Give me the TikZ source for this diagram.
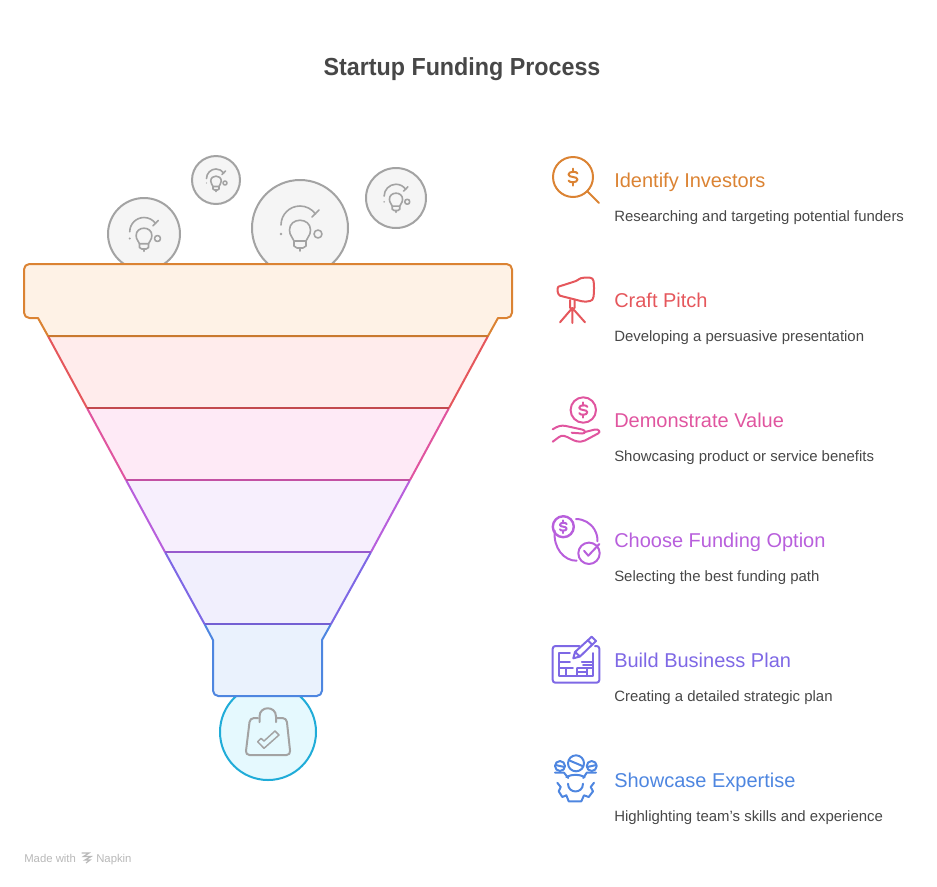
\documentclass[tikz,border=0pt]{standalone}
\usepackage{fontspec}
\setmainfont{Liberation Sans}
\newfontfamily\titlefont[FakeStretch=0.944]{Liberation Sans}
\definecolor{cOrange}{HTML}{DB8333}
\definecolor{cRed}{HTML}{E5575C}
\definecolor{cPink}{HTML}{E0559F}
\definecolor{cPurple}{HTML}{B85FDC}
\definecolor{cViolet}{HTML}{7E68E5}
\definecolor{cBlue}{HTML}{4E86E0}
\definecolor{cTeal}{HTML}{20ACD8}
\definecolor{cGrey}{HTML}{A3A3A3}
\definecolor{fOrange}{HTML}{FEF2E6}
\definecolor{fRed}{HTML}{FFECEC}
\definecolor{fPink}{HTML}{FEEAF6}
\definecolor{fPurple}{HTML}{F7EFFD}
\definecolor{fViolet}{HTML}{F1EFFD}
\definecolor{fBlue}{HTML}{EAF2FD}
\definecolor{fTeal}{HTML}{E5F9FE}
\tikzset{
  headlabel/.style={anchor=base west,inner sep=0pt,font=\fontsize{15}{18}\selectfont},
  bodylabel/.style={anchor=base west,inner sep=0pt,text=black!72,font=\fontsize{11.2}{13}\selectfont},
  footlabel/.style={anchor=base west,inner sep=0pt,text=black!28,font=\fontsize{8.5}{10}\selectfont},
  band/.style={line width=1.5pt,line join=round},
  icon/.style={line width=1.5pt,line cap=round,line join=round},
  bulbline/.style={cGrey,line width=1.2pt,line cap=round,line join=round},
  bulbdisc/.style={draw=cGrey,fill=black!4,line width=1.5pt},
  pics/dollar/.style={code={
    \draw[icon,pic actions](4.5,-3.5)..controls(4,-6) and (-4.5,-6)..(-4.5,-2.5)
      ..controls(-4.5,1) and (4.5,-1)..(4.5,2.5)
      ..controls(4.5,6) and (-4,6)..(-4.5,3.5);
    \draw[icon,pic actions](0,-8.5)--(0,-5)(0,5)--(0,8.5);
  }},
  pics/bulb/.style={code={
    \draw[bulbline](-19,-3)arc[start angle=180,end angle=325,radius=19];
    \draw[bulbline](12,-11)--(19,-18);
    \draw[bulbline](-6,13)..controls(-7,9) and (-10.5,8)..(-10.5,2)
      ..controls(-10.5,-11) and (10.5,-11)..(10.5,2)
      ..controls(10.5,8) and (7,9)..(6,13)--cycle;
    \draw[bulbline](-6,13)--(-6,18)--(-3,20)--(3,20)--(6,18)--(6,13)(0,20)--(0,23);
    \draw[bulbline](18,6)circle(4);
    \fill[cGrey](-19,6)circle(1.4);
  }}
}
\begin{document}
\begin{tikzpicture}[x=0.75pt,y=-0.75pt]
  \useasboundingbox(0,0)rectangle(937,886);

  \node[anchor=base,font=\titlefont\fontsize{18.5}{23}\bfseries\selectfont,text=black!72,inner sep=0pt](title) at (462,75.5){Startup Funding Process};

  % circles behind the funnel
  \draw[bulbdisc](144,234)circle(36);
  \draw[bulbdisc](216,180)circle(24);
  \draw[bulbdisc](300,228)circle(48);
  \draw[bulbdisc](396,198)circle(30);
  \pic[scale=0.75] at (144,234){bulb};
  \pic[scale=0.5] at (216,180){bulb};
  \pic at (300,228){bulb};
  \pic[scale=0.625] at (396,198){bulb};
  \draw[cTeal,fill=fTeal,line width=1.5pt](268,732)circle(48);

  % funnel
  \coordinate(L1) at (48,336);\coordinate(R1) at (488,336);
  \coordinate(L2) at (87,408);\coordinate(R2) at (449,408);
  \coordinate(L3) at (126,480);\coordinate(R3) at (410,480);
  \coordinate(L4) at (165,552);\coordinate(R4) at (371,552);
  \coordinate(L5) at (204.5,624);\coordinate(R5) at (331,624);

  \fill[fRed](L1)--(R1)--(R2)--(L2)--cycle;
  \fill[fPink](L2)--(R2)--(R3)--(L3)--cycle;
  \fill[fPurple](L3)--(R3)--(R4)--(L4)--cycle;
  \fill[fViolet](L4)--(R4)--(R5)--(L5)--cycle;

  \draw[band,cOrange,fill=fOrange](L1)--(38,318)[rounded corners=4pt]--(24,318)--(24,264)--(512,264)--(512,318)[sharp corners]--(498,318)--(R1)--cycle;
  \draw[band,cBlue,fill=fBlue](L5)--(213,640)[rounded corners=4pt]--(213,696)--(322,696)[sharp corners]--(322,640)--(R5);

  \draw[band,cRed](L1)--(L2)(R1)--(R2);
  \draw[band,cPink](L2)--(L3)(R2)--(R3);
  \draw[band,cPurple](L3)--(L4)(R3)--(R4);
  \draw[band,cViolet](L4)--(L5)(R4)--(R5);
  \draw[band,cOrange!92!black](L1)--(R1);
  \draw[band,cRed!85!black](L2)--(R2);
  \draw[band,cPink!70!cPurple!92!black](L3)--(R3);
  \draw[band,cPurple!65!cViolet!92!black](L4)--(R4);
  \draw[band,cViolet!92!black](L5)--(R5);

  % bag
  \draw[icon,cGrey,rounded corners=3pt](258,718)--(250,718)--(245.5,755)--(290.5,755)--(286.5,718)--(277,718);
  \draw[icon,cGrey](259.5,722)--(259.5,716.5)..controls(259.5,705.5) and (276,705.5)..(276,716.5)--(276,722);
  \draw[icon,cGrey,line width=1.1pt](257.7,741.7)--(264,748.3)--(279,735)--(275,731)--(264,741)--(261,738.3)--cycle;

  % right column
  \node[headlabel,text=cOrange](identify) at (614,187){Identify Investors};
  \node[bodylabel](identifytxt) at (614,221){Researching and targeting potential funders};
  \node[headlabel,text=cRed](craft) at (614,307){Craft Pitch};
  \node[bodylabel](crafttxt) at (614,341){Developing a persuasive presentation};
  \node[headlabel,text=cPink](demo) at (614,427){Demonstrate Value};
  \node[bodylabel](demotxt) at (614,461){Showcasing product or service benefits};
  \node[headlabel,text=cPurple](choose) at (614,547){Choose Funding Option};
  \node[bodylabel](choosetxt) at (614,581){Selecting the best funding path};
  \node[headlabel,text=cViolet](build) at (614,667){Build Business Plan};
  \node[bodylabel](buildtxt) at (614,701){Creating a detailed strategic plan};
  \node[headlabel,text=cBlue](show) at (614,787){Showcase Expertise};
  \node[bodylabel](showtxt) at (614,821){Highlighting team's skills and experience};

  % magnifier
  \draw[icon,cOrange](573,177)circle(20);
  \draw[icon,cOrange](587,191)--(599,203);
  \pic[cOrange,scale=1] at (573,177){dollar};

  % pitch camera
  \draw[icon,cRed](558.3,286.7)--(573,282)..controls(578,281) and (579,277.7)..(584,277.7)--(590,277.7)
    ..controls(594,277.7) and (594,283)..(594,288)..controls(594,294) and (594,301)..(590,301)
    ..controls(584,303) and (578,300)..(573,299)--(560,295.7)..controls(557,294) and (557,288)..(558.3,286.7);
  \draw[icon,cRed](570,300)--(570,308)(574.7,300)--(574.7,308)(560,322.3)--(572.3,308)--(585,322.3)(572.3,308)--(572.3,323);

  % hand and coin
  \draw[icon,cPink](583.3,410)circle(12.7);
  \pic[cPink,scale=0.9] at (583.3,410){dollar};
  \draw[icon,cPink](552.7,429.3)..controls(558,426) and (561,425)..(566,426)--(582,429.5)..controls(586,430.5) and (586,433.5)..(582,433.5)--(571.7,432.7);
  \draw[icon,cPink](585,432)--(595,429.5)..controls(599,429) and (601,432)..(598,433.5)--(585,440.5)..controls(579,443) and (575,441)..(571,439)..controls(566,436) and (562,434.5)..(559,437)--(552.7,441.7);

  % funding option
  \draw[icon,cPurple,line width=1.8pt](563.3,526.7)circle(10.5);
  \pic[cPurple,scale=0.75] at (563.3,526.7){dollar};
  \draw[icon,cPurple](589,553.3)circle(10.7);
  \draw[icon,cPurple](584,550.7)--(588.3,555.7)--(599.3,544);
  \draw[icon,cPurple](576,519)arc[start angle=270,end angle=362,radius=21.5];
  \draw[icon,cPurple](554.7,530.5)..controls(553,548) and (564,561)..(576.7,560.7);

  % business plan
  \draw[icon,cViolet,rounded corners=2pt](579.3,646)--(552.7,646)--(552.7,682.7)--(599.3,682.7)--(599.3,646)--(595,646);
  \draw[icon,cViolet](573.3,658.3)--(575,652)--(591.7,636.7)--(596,641)--(580,656.5)--cycle(575,652)--(580,656.5)(588,640.5)--(592.5,645);
  \draw[icon,cViolet,line width=1.3pt](570,653.3)--(559.3,653.3)--(559.3,676)--(593.3,676)--(593.3,653)(559.3,661.7)--(570,661.7)(559.3,668.3)--(573,668.3)(566,668.3)--(566,676)
    (581.7,661.7)--(593.3,661.7)(583,665)--(593.3,665)(577,668.3)--(593.3,668.3)(577.3,668.3)--(577.3,676)(586.7,668.3)--(586.7,676)(577.3,671.8)--(586.7,671.8);

  % team and gear
  \draw[icon,cBlue](576,763.3)circle(8);
  \draw[icon,cBlue](569.5,760.5)--(582.5,766);
  \draw[icon,cBlue](560,766)circle(5);
  \draw[icon,cBlue](591.7,766)circle(5);
  \draw[icon,cBlue](555.5,765)--(564.5,767)(587.2,767)--(596.2,765);
  \draw[icon,cBlue](555,772.7)--(564,772.7)--(568.3,778)(596,772.7)--(586.7,772.7)--(583.3,778);
  \draw[icon,cBlue](566.3,777)..controls(572,774) and (579,774)..(584.7,777);
  \draw[icon,cBlue](568,783.7)..controls(568,794) and (583,794)..(583,783.7);
  \draw[icon,cBlue](557.3,782.7)--(560.7,787)--(558.7,791.3)--(562.3,797)--(566.3,795.3)--(568.7,801.3)--(581.3,801.3)--(584,795.3)--(588.7,797)--(593,791.3)--(590.7,787)--(594,782.7);

  % footer
  \node[footlabel](made) at (24,862){Made with};
  \draw[black!28,line width=0.9pt](81.5,853)--(89,853)--(83.5,856.5)--(91,856.5)--(85,860)--(90,860)--(86,863);
  \node[footlabel](napkin) at (96,862){Napkin};
\end{tikzpicture}
\end{document}
